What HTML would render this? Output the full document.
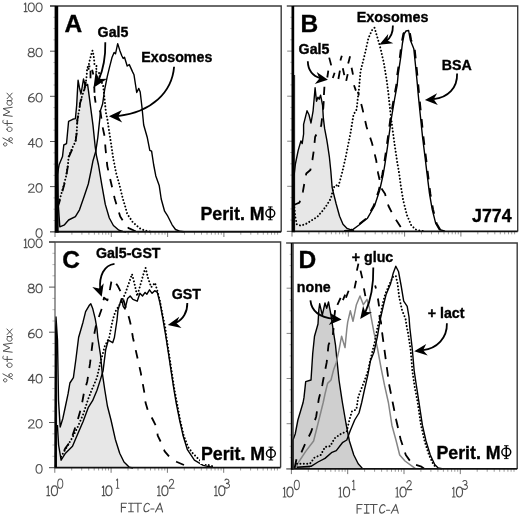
<!DOCTYPE html>
<html><head><meta charset="utf-8"><title>Figure</title>
<style>
html,body{margin:0;padding:0;background:#fff;}
body{width:520px;height:515px;overflow:hidden;}
svg{display:block;will-change:transform;transform:translateZ(0);filter:blur(0.35px);}
text{font-family:"Liberation Sans",sans-serif;}
</style></head><body>
<svg width="520" height="515" viewBox="0 0 520 515">
<rect width="520" height="515" fill="#fff"/>
<g id="panelA">
<path d="M50.0,6.0 H281.2 V231.8" fill="none" stroke="#3a3a3a" stroke-width="1.4"/>
<polygon points="57.0,232.0 57.0,176.0 59.1,164.8 62.5,156.6 63.8,145.0 66.5,143.7 68.6,121.3 72.7,119.3 75.4,118.6 76.7,105.0 77.5,90.0 78.1,80.3 79.5,88.0 81.0,94.0 83.5,79.0 85.3,86.0 87.6,84.4 89.6,99.3 91.0,110.2 93.0,125.4 95.1,145.8 96.4,155.3 98.5,165.0 101.9,185.4 105.3,204.4 109.3,218.0 113.4,225.5 118.9,230.2 122.9,231.4 126.0,232.0" fill="#e7e7e7" stroke="none"/>
<polyline points="57.0,232.0 57.0,176.0 59.1,164.8 62.5,156.6 63.8,145.0 66.5,143.7 68.6,121.3 72.7,119.3 75.4,118.6 76.7,105.0 77.5,90.0 78.1,80.3 79.5,88.0 81.0,94.0 83.5,79.0 85.3,86.0 87.6,84.4 89.6,99.3 91.0,110.2 93.0,125.4 95.1,145.8 96.4,155.3 98.5,165.0 101.9,185.4 105.3,204.4 109.3,218.0 113.4,225.5 118.9,230.2 122.9,231.4 126.0,232.0" fill="none" stroke="#000" stroke-width="1.4" stroke-linejoin="round"/>
<polyline points="57.0,170.0 58.0,200.0 59.8,226.8 64.5,224.8 68.6,220.0 75.4,216.6 79.5,209.8 84.2,196.3 88.3,184.0 91.0,171.0 93.0,160.7 95.8,151.2 97.8,137.6 99.8,118.6 100.5,110.4 102.6,104.0 104.6,89.8 107.3,76.3 109.3,68.1 112.1,57.2 114.1,52.5 115.5,53.8 117.7,43.6 119.8,50.4 121.8,55.8 123.2,58.5 124.5,57.2 127.2,66.0 129.3,64.6 132.7,72.1 134.0,74.8 136.7,92.5 138.8,88.4 140.2,92.0 142.0,107.5 143.7,125.0 147.2,137.2 149.8,150.3 151.6,151.2 153.7,165.0 155.8,175.9 159.2,185.4 161.2,199.0 164.6,211.2 167.3,215.3 172.1,224.8 175.5,229.5 180.2,231.3 184.0,231.8" fill="none" stroke="#000" stroke-width="1.4" stroke-linejoin="round"/>
<polyline points="57.5,206.0 59.1,201.7 61.8,192.2 65.9,177.2 67.9,165.0 68.6,156.6 72.7,147.1 75.4,141.7 76.7,132.2 77.4,118.6 79.5,109.0 80.1,102.0 84.2,89.8 86.2,80.0 86.8,74.0 87.1,68.3 88.6,65.5 89.6,61.0 90.6,57.0 91.5,53.5 92.5,50.6 93.3,54.0 94.0,58.2 94.3,62.0 94.5,65.2 97.1,66.3 95.6,71.4 99.0,72.5 99.8,77.6 103.2,85.8 104.6,99.3 106.0,113.0 107.3,118.6 109.3,132.2 111.4,145.8 113.4,159.3 116.1,173.0 118.9,182.7 122.9,199.0 125.0,205.8 127.2,213.9 132.7,222.1 139.5,228.2 144.9,230.6 150.0,231.5" fill="none" stroke="#000" stroke-width="2.0" stroke-dasharray="0.01 3.4" stroke-linecap="round" stroke-linejoin="round"/>
<polyline points="57.5,208.0 59.1,203.0 61.8,193.5 65.9,178.5 67.9,166.0 68.6,157.6 72.7,148.1 75.4,142.7 76.7,133.2 77.4,119.6 79.5,110.0 80.1,103.0 84.2,90.8 86.5,78.0" fill="none" stroke="#000" stroke-width="1.8" stroke-dasharray="8.6 8.8" stroke-linejoin="round"/>
<polyline points="94.6,96.0 95.8,104.0 98.0,108.0 100.5,112.0 102.6,127.0 104.6,136.3 105.5,148.5 107.3,166.1 110.7,181.3 114.8,199.0 120.2,216.6 122.9,220.7 128.6,228.2 134.0,230.5 138.0,231.5" fill="none" stroke="#000" stroke-width="1.8" stroke-dasharray="8.6 8.8" stroke-linejoin="round" stroke-dashoffset="1.89"/>
<path d="M90.5,70.6 L90.5,78.3" stroke="#000" stroke-width="1.8" fill="none"/><path d="M92.1,69.8 L93.3,74.5" stroke="#000" stroke-width="1.8" fill="none"/><path d="M88.2,66.0 L90.3,66.6" stroke="#000" stroke-width="1.8" fill="none"/><path d="M87.5,68.6 L89.5,69.1" stroke="#000" stroke-width="1.8" fill="none"/><path d="M94.3,86.6 L94.5,92.8" stroke="#000" stroke-width="1.8" fill="none"/>
<path d="M50.0,231.8 H56.0" stroke="#555" stroke-width="1"/>
<path d="M53.4,220.5 H56.0" stroke="#aaa" stroke-width="0.8"/>
<path d="M53.4,209.2 H56.0" stroke="#aaa" stroke-width="0.8"/>
<path d="M53.4,197.9 H56.0" stroke="#aaa" stroke-width="0.8"/>
<path d="M50.0,186.6 H56.0" stroke="#555" stroke-width="1"/>
<path d="M53.4,175.4 H56.0" stroke="#aaa" stroke-width="0.8"/>
<path d="M53.4,164.1 H56.0" stroke="#aaa" stroke-width="0.8"/>
<path d="M53.4,152.8 H56.0" stroke="#aaa" stroke-width="0.8"/>
<path d="M50.0,141.5 H56.0" stroke="#555" stroke-width="1"/>
<path d="M53.4,130.2 H56.0" stroke="#aaa" stroke-width="0.8"/>
<path d="M53.4,118.9 H56.0" stroke="#aaa" stroke-width="0.8"/>
<path d="M53.4,107.6 H56.0" stroke="#aaa" stroke-width="0.8"/>
<path d="M50.0,96.3 H56.0" stroke="#555" stroke-width="1"/>
<path d="M53.4,85.0 H56.0" stroke="#aaa" stroke-width="0.8"/>
<path d="M53.4,73.7 H56.0" stroke="#aaa" stroke-width="0.8"/>
<path d="M53.4,62.5 H56.0" stroke="#aaa" stroke-width="0.8"/>
<path d="M50.0,51.2 H56.0" stroke="#555" stroke-width="1"/>
<path d="M53.4,39.9 H56.0" stroke="#aaa" stroke-width="0.8"/>
<path d="M53.4,28.6 H56.0" stroke="#aaa" stroke-width="0.8"/>
<path d="M53.4,17.3 H56.0" stroke="#aaa" stroke-width="0.8"/>
<path d="M50.0,6.0 H56.0" stroke="#555" stroke-width="1"/>
<path d="M55.0,231.8 v5.2" stroke="#6a6a6a" stroke-width="0.9"/>
<path d="M71.9,231.8 v2.9" stroke="#888" stroke-width="0.8"/>
<path d="M81.9,231.8 v2.9" stroke="#888" stroke-width="0.8"/>
<path d="M88.9,231.8 v2.9" stroke="#888" stroke-width="0.8"/>
<path d="M94.4,231.8 v2.9" stroke="#888" stroke-width="0.8"/>
<path d="M98.8,231.8 v2.9" stroke="#888" stroke-width="0.8"/>
<path d="M102.6,231.8 v2.9" stroke="#888" stroke-width="0.8"/>
<path d="M105.8,231.8 v2.9" stroke="#888" stroke-width="0.8"/>
<path d="M108.7,231.8 v2.9" stroke="#888" stroke-width="0.8"/>
<path d="M111.3,231.8 v5.2" stroke="#6a6a6a" stroke-width="0.9"/>
<path d="M128.2,231.8 v2.9" stroke="#888" stroke-width="0.8"/>
<path d="M138.2,231.8 v2.9" stroke="#888" stroke-width="0.8"/>
<path d="M145.2,231.8 v2.9" stroke="#888" stroke-width="0.8"/>
<path d="M150.7,231.8 v2.9" stroke="#888" stroke-width="0.8"/>
<path d="M155.1,231.8 v2.9" stroke="#888" stroke-width="0.8"/>
<path d="M158.9,231.8 v2.9" stroke="#888" stroke-width="0.8"/>
<path d="M162.1,231.8 v2.9" stroke="#888" stroke-width="0.8"/>
<path d="M165.0,231.8 v2.9" stroke="#888" stroke-width="0.8"/>
<path d="M167.6,231.8 v5.2" stroke="#6a6a6a" stroke-width="0.9"/>
<path d="M184.5,231.8 v2.9" stroke="#888" stroke-width="0.8"/>
<path d="M194.5,231.8 v2.9" stroke="#888" stroke-width="0.8"/>
<path d="M201.5,231.8 v2.9" stroke="#888" stroke-width="0.8"/>
<path d="M207.0,231.8 v2.9" stroke="#888" stroke-width="0.8"/>
<path d="M211.4,231.8 v2.9" stroke="#888" stroke-width="0.8"/>
<path d="M215.2,231.8 v2.9" stroke="#888" stroke-width="0.8"/>
<path d="M218.4,231.8 v2.9" stroke="#888" stroke-width="0.8"/>
<path d="M221.3,231.8 v2.9" stroke="#888" stroke-width="0.8"/>
<path d="M223.9,231.8 v5.2" stroke="#6a6a6a" stroke-width="0.9"/>
<path d="M240.8,231.8 v2.9" stroke="#888" stroke-width="0.8"/>
<path d="M250.8,231.8 v2.9" stroke="#888" stroke-width="0.8"/>
<path d="M257.8,231.8 v2.9" stroke="#888" stroke-width="0.8"/>
<path d="M263.3,231.8 v2.9" stroke="#888" stroke-width="0.8"/>
<path d="M267.7,231.8 v2.9" stroke="#888" stroke-width="0.8"/>
<path d="M271.5,231.8 v2.9" stroke="#888" stroke-width="0.8"/>
<path d="M274.7,231.8 v2.9" stroke="#888" stroke-width="0.8"/>
<path d="M277.6,231.8 v2.9" stroke="#888" stroke-width="0.8"/>
<path d="M50.0,231.8 H56.0" fill="none" stroke="#666" stroke-width="1.1"/>
<path d="M55.5,231.8 H281.2" fill="none" stroke="#111" stroke-width="1.9"/>
<rect x="54.60" y="6.00" width="3.60" height="226.60" fill="#000"/>
<rect x="58.20" y="168.00" width="0.60" height="64.60" fill="#000"/>
<g transform="translate(35.50,237.50) scale(1.08,1.0)" fill="none" stroke="#505050" stroke-width="1.05" stroke-linecap="round" stroke-linejoin="round"><path transform="translate(0.00,0)" d="M3.3,-8.7 C1.4,-8.7 0.5,-6.6 0.5,-4.4 C0.5,-2.0 1.4,-0.1 3.3,-0.1 C5.2,-0.1 6.1,-2.0 6.1,-4.4 C6.1,-6.6 5.2,-8.7 3.3,-8.7 Z"/></g>
<g transform="translate(27.94,192.34) scale(1.08,1.0)" fill="none" stroke="#505050" stroke-width="1.05" stroke-linecap="round" stroke-linejoin="round"><path transform="translate(0.00,0)" d="M0.7,-6.6 C0.9,-8.9 5.4,-9.2 5.4,-6.4 C5.4,-4.0 1.6,-2.2 0.5,-0.1 H6.0"/><path transform="translate(7.00,0)" d="M3.3,-8.7 C1.4,-8.7 0.5,-6.6 0.5,-4.4 C0.5,-2.0 1.4,-0.1 3.3,-0.1 C5.2,-0.1 6.1,-2.0 6.1,-4.4 C6.1,-6.6 5.2,-8.7 3.3,-8.7 Z"/></g>
<g transform="translate(27.94,147.18) scale(1.08,1.0)" fill="none" stroke="#505050" stroke-width="1.05" stroke-linecap="round" stroke-linejoin="round"><path transform="translate(0.00,0)" d="M4.4,0 V-8.7 L0.3,-2.7 H6.2"/><path transform="translate(7.00,0)" d="M3.3,-8.7 C1.4,-8.7 0.5,-6.6 0.5,-4.4 C0.5,-2.0 1.4,-0.1 3.3,-0.1 C5.2,-0.1 6.1,-2.0 6.1,-4.4 C6.1,-6.6 5.2,-8.7 3.3,-8.7 Z"/></g>
<g transform="translate(27.94,102.02) scale(1.08,1.0)" fill="none" stroke="#505050" stroke-width="1.05" stroke-linecap="round" stroke-linejoin="round"><path transform="translate(0.00,0)" d="M4.9,-8.6 C2.2,-7.6 0.5,-5 0.5,-2.7 C0.5,-0.8 1.9,-0.1 3.2,-0.1 C4.8,-0.1 5.9,-1.2 5.9,-2.6 C5.9,-4.0 4.7,-4.8 3.4,-4.8 C2.0,-4.8 0.8,-3.8 0.5,-2.7"/><path transform="translate(7.00,0)" d="M3.3,-8.7 C1.4,-8.7 0.5,-6.6 0.5,-4.4 C0.5,-2.0 1.4,-0.1 3.3,-0.1 C5.2,-0.1 6.1,-2.0 6.1,-4.4 C6.1,-6.6 5.2,-8.7 3.3,-8.7 Z"/></g>
<g transform="translate(27.72,56.86) scale(1.08,1.0)" fill="none" stroke="#505050" stroke-width="1.05" stroke-linecap="round" stroke-linejoin="round"><path transform="translate(0.00,0)" d="M3.3,-4.7 C1.6,-4.7 0.9,-5.6 0.9,-6.7 C0.9,-7.9 1.9,-8.7 3.3,-8.7 C4.7,-8.7 5.6,-7.9 5.6,-6.7 C5.6,-5.6 4.9,-4.7 3.3,-4.7 C1.4,-4.7 0.4,-3.6 0.4,-2.4 C0.4,-1.0 1.6,-0.1 3.3,-0.1 C5.0,-0.1 6.2,-1.0 6.2,-2.4 C6.2,-3.6 5.2,-4.7 3.3,-4.7 Z"/><path transform="translate(7.20,0)" d="M3.3,-8.7 C1.4,-8.7 0.5,-6.6 0.5,-4.4 C0.5,-2.0 1.4,-0.1 3.3,-0.1 C5.2,-0.1 6.1,-2.0 6.1,-4.4 C6.1,-6.6 5.2,-8.7 3.3,-8.7 Z"/></g>
<g transform="translate(24.05,11.70) scale(1.08,1.0)" fill="none" stroke="#505050" stroke-width="1.05" stroke-linecap="round" stroke-linejoin="round"><path transform="translate(0.00,0)" d="M0.2,-7.6 L1.5,-8.7 V-0.1 M0.1,-0.1 H2.9"/><path transform="translate(3.40,0)" d="M3.3,-8.7 C1.4,-8.7 0.5,-6.6 0.5,-4.4 C0.5,-2.0 1.4,-0.1 3.3,-0.1 C5.2,-0.1 6.1,-2.0 6.1,-4.4 C6.1,-6.6 5.2,-8.7 3.3,-8.7 Z"/><path transform="translate(10.60,0)" d="M3.3,-8.7 C1.4,-8.7 0.5,-6.6 0.5,-4.4 C0.5,-2.0 1.4,-0.1 3.3,-0.1 C5.2,-0.1 6.1,-2.0 6.1,-4.4 C6.1,-6.6 5.2,-8.7 3.3,-8.7 Z"/></g>
<g transform="translate(12.20,146.10) rotate(-90)" fill="none" stroke="#505050" stroke-width="1" stroke-linecap="round" stroke-linejoin="round"><path d="M8.1,-9.3 L2.9,0.4"/><path d="M1.7,-8.7 C0.6,-8.7 0.1,-7.9 0.1,-7.0 C0.1,-6.1 0.7,-5.3 1.7,-5.3 C2.7,-5.3 3.3,-6.1 3.3,-7.0 C3.3,-7.9 2.8,-8.7 1.7,-8.7 Z"/><path d="M6.9,-3.2 C5.8,-3.2 5.3,-2.4 5.3,-1.5 C5.3,-0.6 5.9,0.2 6.9,0.2 C7.9,0.2 8.5,-0.6 8.5,-1.5 C8.5,-2.4 8.0,-3.2 6.9,-3.2 Z"/><path d="M16.8,-5.2 C15.3,-5.2 14.6,-4.0 14.6,-2.6 C14.6,-1.2 15.4,-0.1 16.8,-0.1 C18.2,-0.1 19.0,-1.2 19.0,-2.6 C19.0,-4.0 18.3,-5.2 16.8,-5.2 Z"/><path d="M26.0,-8.8 C25.2,-9.9 22.8,-9.8 22.6,-7.4 V0 M20.4,-5.0 H25.6"/><path d="M29.8,0 L31.0,-9.2 L34.2,-2.4 L37.5,-9.2 L38.8,0"/><path d="M45.4,-3.9 C44.8,-5.0 43.8,-5.2 43.0,-5.2 C41.6,-5.2 40.8,-4.0 40.8,-2.6 C40.8,-1.2 41.6,-0.1 43.0,-0.1 C44.4,-0.1 45.4,-1.2 45.5,-2.8 M45.5,-5.0 V-1.0 C45.6,-0.4 46.0,-0.1 46.5,-0.1"/><path d="M47.4,-5.1 L53.0,0 M53.0,-5.3 L47.4,0"/></g>
<text x="64.4" y="31.6" font-size="24.5" font-weight="bold" fill="#000" stroke="#000" stroke-width="0.35" text-anchor="start" >A</text>
<text x="97.6" y="36.8" font-size="14.2" font-weight="bold" fill="#000" stroke="#000" stroke-width="0.35" text-anchor="start" >Gal5</text>
<text x="141.3" y="61.6" font-size="14.2" font-weight="bold" fill="#000" stroke="#000" stroke-width="0.35" text-anchor="start" >Exosomes</text>
<text x="200.4" y="220" font-size="17.8" font-weight="bold" fill="#000" stroke="#000" stroke-width="0.35" text-anchor="start" >Perit. M</text>
<g fill="none" stroke="#000"><ellipse cx="270.3" cy="213.3" rx="4.45" ry="4.0" stroke-width="1.45"/><path d="M270.3,206.8 V219.9" stroke-width="1.5"/><path d="M268.0,206.9 h4.6 M268.0,219.8 h4.6" stroke-width="0.9"/></g>
<path d="M105.3,42.2 C105.6,56 103,70 98.6,80.2" fill="none" stroke="#000" stroke-width="1.8" stroke-linecap="butt"/><path d="M93.5,87.8 L95.7,71.5 L99.1,78.9 L107.2,78.7 Z" fill="#000"/>
<path d="M174.1,66.7 C172,92 152,112 117.6,116.2" fill="none" stroke="#000" stroke-width="1.8" stroke-linecap="butt"/><path d="M108.9,116.3 L122.0,110.0 L118.1,116.2 L122.2,122.4 Z" fill="#000"/>
</g>
<g id="panelB">
<path d="M286.8,6.0 H517.7 V231.4" fill="none" stroke="#3a3a3a" stroke-width="1.4"/>
<polygon points="294.0,232.0 294.0,176.0 295.4,164.0 298.2,150.4 300.9,140.9 302.2,143.6 303.6,134.0 303.6,124.3 307.0,110.8 309.0,114.8 311.0,123.0 313.1,110.8 315.1,87.7 316.5,101.2 317.9,97.2 319.2,99.2 320.6,95.1 322.6,105.3 323.3,117.6 324.6,128.4 326.7,139.3 327.4,143.6 329.4,157.2 330.8,170.8 332.1,187.0 332.8,190.4 336.2,204.0 339.6,216.2 343.0,224.3 347.1,228.4 351.1,229.8 354.0,231.0" fill="#e7e7e7" stroke="none"/>
<polyline points="294.0,232.0 294.0,176.0 295.4,164.0 298.2,150.4 300.9,140.9 302.2,143.6 303.6,134.0 303.6,124.3 307.0,110.8 309.0,114.8 311.0,123.0 313.1,110.8 315.1,87.7 316.5,101.2 317.9,97.2 319.2,99.2 320.6,95.1 322.6,105.3 323.3,117.6 324.6,128.4 326.7,139.3 327.4,143.6 329.4,157.2 330.8,170.8 332.1,187.0 332.8,190.4 336.2,204.0 339.6,216.2 343.0,224.3 347.1,228.4 351.1,229.8 354.0,231.0" fill="none" stroke="#000" stroke-width="1.4" stroke-linejoin="round"/>
<polyline points="345.0,231.0 351.7,230.4 358.7,225.2 367.5,218.2 374.5,206.0 379.7,190.2 383.2,174.5 385.0,163.7 387.6,146.2 391.1,120.0 394.6,99.0 397.2,85.0 398.1,74.9 400.7,57.4 402.4,43.5 404.2,33.8 406.0,31.0 408.6,30.5 410.3,40.0 413.8,48.7 415.6,66.2 417.3,83.7 418.2,94.2 419.9,111.2 422.6,137.4 425.2,158.4 426.9,172.7 429.5,193.7 432.2,209.4 435.7,223.4 439.2,229.5 445.0,231.2" fill="none" stroke="#000" stroke-width="1.4" stroke-linejoin="round"/>
<polyline points="294.0,204.0 295.4,217.6 296.8,224.3 300.9,225.7 306.3,223.7 311.7,220.3 317.2,216.9 322.6,210.8 326.7,205.3 330.8,198.5 333.5,187.7 336.2,185.0 338.2,187.0 340.3,179.5 342.3,172.0 345.7,157.2 348.4,143.6 350.0,136.0 353.5,114.7 356.6,109.4 357.9,97.2 358.7,92.0 360.5,71.4 364.9,54.0 368.4,38.2 371.9,30.3 374.5,27.7 377.1,36.5 380.6,48.7 384.1,64.4 386.7,80.2 388.5,94.2 389.3,102.5 392.0,125.2 394.6,144.4 397.2,161.9 399.3,174.2 400.7,185.0 403.3,200.7 406.8,214.7 411.2,225.2 415.6,229.5 419.9,230.6 424.0,231.2" fill="none" stroke="#000" stroke-width="2.0" stroke-dasharray="0.01 3.4" stroke-linecap="round" stroke-linejoin="round"/>
<polyline points="294.0,205.0 296.1,204.0 299.5,202.6 302.9,191.7 304.3,183.6 306.3,173.5 310.4,170.0 312.4,160.0 313.8,150.4 315.1,137.0 318.0,131.0 321.2,125.7 323.3,108.0 324.0,97.0" fill="none" stroke="#000" stroke-width="1.8" stroke-dasharray="8.6 8.8" stroke-linejoin="round" stroke-dashoffset="0.74"/>
<polyline points="357.9,91.7 362.2,107.7 366.6,127.0 371.9,142.7 376.2,160.2 378.0,172.7 381.5,188.5 385.0,193.7 388.5,206.0 393.7,216.4 400.7,227.0 404.2,230.4 408.0,231.2" fill="none" stroke="#000" stroke-width="1.8" stroke-dasharray="8.6 8.8" stroke-linejoin="round" stroke-dashoffset="4.65"/>
<path d="M329.2,57.6 L331.2,65.4" stroke="#000" stroke-width="1.8" fill="none"/><path d="M328.3,70.7 L327.3,77.5" stroke="#000" stroke-width="1.8" fill="none"/><path d="M334.6,72.7 L332.8,78.0" stroke="#000" stroke-width="1.8" fill="none"/><path d="M339.9,70.7 L338.4,79.0" stroke="#000" stroke-width="1.8" fill="none"/><path d="M341.8,55.7 L340.4,60.5" stroke="#000" stroke-width="1.8" fill="none"/><path d="M342.8,68.3 L344.3,75.1" stroke="#000" stroke-width="1.8" fill="none"/><path d="M347.7,74.1 L346.2,80.9" stroke="#000" stroke-width="1.8" fill="none"/><path d="M350.1,56.2 L348.2,63.4" stroke="#000" stroke-width="1.8" fill="none"/><path d="M351.6,67.8 L353.0,74.6" stroke="#000" stroke-width="1.8" fill="none"/><path d="M354.0,85.3 L355.9,90.6" stroke="#000" stroke-width="1.8" fill="none"/><path d="M324.4,86.7 L323.9,95.0" stroke="#000" stroke-width="1.8" fill="none"/>
<polyline points="344.1,231.0 350.8,230.4 357.8,225.2 366.6,218.2 373.6,206.0 378.8,190.2 382.3,174.5 384.1,163.7 386.7,146.2 390.2,120.0 393.7,99.0 396.3,85.0 397.2,74.9 399.8,57.4 401.5,43.5 403.3,33.8 405.1,31.0 409.5,30.5 411.2,40.0 414.7,48.7 416.5,66.2 418.2,83.7 419.1,94.2 420.8,111.2 423.5,137.4 426.1,158.4 427.8,172.7 430.4,193.7 433.1,209.4 436.6,223.4 440.1,229.5 445.9,231.2" fill="none" stroke="#000" stroke-width="1.8" stroke-dasharray="8.6 8.8" stroke-linejoin="round"/>
<path d="M287.2,231.4 H292.8" stroke="#888" stroke-width="1"/>
<path d="M290.2,220.1 H292.8" stroke="#aaa" stroke-width="0.8"/>
<path d="M290.2,208.9 H292.8" stroke="#aaa" stroke-width="0.8"/>
<path d="M290.2,197.6 H292.8" stroke="#aaa" stroke-width="0.8"/>
<path d="M287.2,186.3 H292.8" stroke="#888" stroke-width="1"/>
<path d="M290.2,175.1 H292.8" stroke="#aaa" stroke-width="0.8"/>
<path d="M290.2,163.8 H292.8" stroke="#aaa" stroke-width="0.8"/>
<path d="M290.2,152.5 H292.8" stroke="#aaa" stroke-width="0.8"/>
<path d="M287.2,141.2 H292.8" stroke="#888" stroke-width="1"/>
<path d="M290.2,130.0 H292.8" stroke="#aaa" stroke-width="0.8"/>
<path d="M290.2,118.7 H292.8" stroke="#aaa" stroke-width="0.8"/>
<path d="M290.2,107.4 H292.8" stroke="#aaa" stroke-width="0.8"/>
<path d="M287.2,96.2 H292.8" stroke="#888" stroke-width="1"/>
<path d="M290.2,84.9 H292.8" stroke="#aaa" stroke-width="0.8"/>
<path d="M290.2,73.6 H292.8" stroke="#aaa" stroke-width="0.8"/>
<path d="M290.2,62.3 H292.8" stroke="#aaa" stroke-width="0.8"/>
<path d="M287.2,51.1 H292.8" stroke="#888" stroke-width="1"/>
<path d="M290.2,39.8 H292.8" stroke="#aaa" stroke-width="0.8"/>
<path d="M290.2,28.5 H292.8" stroke="#aaa" stroke-width="0.8"/>
<path d="M290.2,17.3 H292.8" stroke="#aaa" stroke-width="0.8"/>
<path d="M287.2,6.0 H292.8" stroke="#888" stroke-width="1"/>
<path d="M292.0,231.4 v5.2" stroke="#6a6a6a" stroke-width="0.9"/>
<path d="M308.9,231.4 v2.9" stroke="#888" stroke-width="0.8"/>
<path d="M318.9,231.4 v2.9" stroke="#888" stroke-width="0.8"/>
<path d="M325.9,231.4 v2.9" stroke="#888" stroke-width="0.8"/>
<path d="M331.4,231.4 v2.9" stroke="#888" stroke-width="0.8"/>
<path d="M335.8,231.4 v2.9" stroke="#888" stroke-width="0.8"/>
<path d="M339.6,231.4 v2.9" stroke="#888" stroke-width="0.8"/>
<path d="M342.8,231.4 v2.9" stroke="#888" stroke-width="0.8"/>
<path d="M345.7,231.4 v2.9" stroke="#888" stroke-width="0.8"/>
<path d="M348.3,231.4 v5.2" stroke="#6a6a6a" stroke-width="0.9"/>
<path d="M365.2,231.4 v2.9" stroke="#888" stroke-width="0.8"/>
<path d="M375.2,231.4 v2.9" stroke="#888" stroke-width="0.8"/>
<path d="M382.2,231.4 v2.9" stroke="#888" stroke-width="0.8"/>
<path d="M387.7,231.4 v2.9" stroke="#888" stroke-width="0.8"/>
<path d="M392.1,231.4 v2.9" stroke="#888" stroke-width="0.8"/>
<path d="M395.9,231.4 v2.9" stroke="#888" stroke-width="0.8"/>
<path d="M399.1,231.4 v2.9" stroke="#888" stroke-width="0.8"/>
<path d="M402.0,231.4 v2.9" stroke="#888" stroke-width="0.8"/>
<path d="M404.6,231.4 v5.2" stroke="#6a6a6a" stroke-width="0.9"/>
<path d="M421.5,231.4 v2.9" stroke="#888" stroke-width="0.8"/>
<path d="M431.5,231.4 v2.9" stroke="#888" stroke-width="0.8"/>
<path d="M438.5,231.4 v2.9" stroke="#888" stroke-width="0.8"/>
<path d="M444.0,231.4 v2.9" stroke="#888" stroke-width="0.8"/>
<path d="M448.4,231.4 v2.9" stroke="#888" stroke-width="0.8"/>
<path d="M452.2,231.4 v2.9" stroke="#888" stroke-width="0.8"/>
<path d="M455.4,231.4 v2.9" stroke="#888" stroke-width="0.8"/>
<path d="M458.3,231.4 v2.9" stroke="#888" stroke-width="0.8"/>
<path d="M460.9,231.4 v5.2" stroke="#6a6a6a" stroke-width="0.9"/>
<path d="M477.8,231.4 v2.9" stroke="#888" stroke-width="0.8"/>
<path d="M487.8,231.4 v2.9" stroke="#888" stroke-width="0.8"/>
<path d="M494.8,231.4 v2.9" stroke="#888" stroke-width="0.8"/>
<path d="M500.3,231.4 v2.9" stroke="#888" stroke-width="0.8"/>
<path d="M504.7,231.4 v2.9" stroke="#888" stroke-width="0.8"/>
<path d="M508.5,231.4 v2.9" stroke="#888" stroke-width="0.8"/>
<path d="M511.7,231.4 v2.9" stroke="#888" stroke-width="0.8"/>
<path d="M514.6,231.4 v2.9" stroke="#888" stroke-width="0.8"/>
<path d="M286.8,231.4 H292.8" fill="none" stroke="#666" stroke-width="1.1"/>
<path d="M292.3,231.4 H517.7" fill="none" stroke="#111" stroke-width="1.9"/>
<rect x="291.50" y="6.00" width="2.70" height="226.20" fill="#000"/>
<rect x="294.20" y="75.00" width="0.90" height="157.20" fill="#000"/>
<text x="300.6" y="31.6" font-size="24.5" font-weight="bold" fill="#000" stroke="#000" stroke-width="0.35" text-anchor="start" >B</text>
<text x="298.6" y="54.2" font-size="14.2" font-weight="bold" fill="#000" stroke="#000" stroke-width="0.35" text-anchor="start" >Gal5</text>
<text x="356.8" y="21.8" font-size="14.35" font-weight="bold" fill="#000" stroke="#000" stroke-width="0.35" text-anchor="start" >Exosomes</text>
<text x="441.8" y="69.6" font-size="14.2" font-weight="bold" fill="#000" stroke="#000" stroke-width="0.35" text-anchor="start" >BSA</text>
<text x="472.0" y="221.6" font-size="17.8" font-weight="bold" fill="#000" stroke="#000" stroke-width="0.35" text-anchor="start" >J774</text>
<path d="M307.8,61.2 C308,70 313,76 320.8,78.4" fill="none" stroke="#000" stroke-width="1.8" stroke-linecap="butt"/><path d="M327.9,79.8 L314.8,83.9 L319.4,78.5 L316.7,71.9 Z" fill="#000"/>
<path d="M392.9,25.5 C393,32 391,37.5 386.3,40.9" fill="none" stroke="#000" stroke-width="1.8" stroke-linecap="butt"/><path d="M379.3,44.8 L388.2,33.9 L387.3,40.5 L393.3,43.3 Z" fill="#000"/>
<path d="M457.1,73.4 C457.5,88 448,97.5 433.6,99.2" fill="none" stroke="#000" stroke-width="1.8" stroke-linecap="butt"/><path d="M424.9,99.9 L437.1,93.3 L433.7,99.3 L437.8,104.9 Z" fill="#000"/>
</g>
<g id="panelC">
<path d="M49.0,242.0 H280.6 V467.6" fill="none" stroke="#3a3a3a" stroke-width="1.4"/>
<polygon points="56.0,468.0 56.0,317.0 57.5,340.0 58.5,400.0 60.2,427.0 62.9,418.2 65.5,406.0 68.1,393.7 69.9,383.0 73.4,377.7 76.0,358.5 78.6,337.5 83.0,322.2 85.6,311.7 89.1,305.6 90.8,303.8 92.6,308.2 95.2,318.7 97.0,329.2 97.8,337.5 100.5,355.0 102.2,372.4 104.8,390.0 107.4,406.0 111.0,420.0 115.3,439.2 119.7,453.2 124.0,462.0 129.3,467.2 133.0,468.0" fill="#e7e7e7" stroke="none"/>
<polyline points="56.0,468.0 56.0,317.0 57.5,340.0 58.5,400.0 60.2,427.0 62.9,418.2 65.5,406.0 68.1,393.7 69.9,383.0 73.4,377.7 76.0,358.5 78.6,337.5 83.0,322.2 85.6,311.7 89.1,305.6 90.8,303.8 92.6,308.2 95.2,318.7 97.0,329.2 97.8,337.5 100.5,355.0 102.2,372.4 104.8,390.0 107.4,406.0 111.0,420.0 115.3,439.2 119.7,453.2 124.0,462.0 129.3,467.2 133.0,468.0" fill="none" stroke="#000" stroke-width="1.4" stroke-linejoin="round"/>
<polyline points="57.4,425.0 58.6,445.0 61.1,460.2 65.5,453.2 72.5,446.2 77.7,434.0 83.0,421.7 88.2,407.7 92.6,400.7 97.0,390.2 100.5,379.4 103.1,370.7 105.7,349.7 108.3,340.1 112.7,342.7 114.4,337.5 117.0,320.0 118.0,310.0 121.4,298.6 123.2,306.4 125.0,309.0 127.6,298.6 130.2,296.0 132.9,299.4 137.2,301.2 139.9,293.3 142.5,296.0 145.1,292.4 146.9,294.2 149.5,289.8 152.1,293.3 154.7,290.7 157.3,292.4 160.0,303.0 162.6,317.0 164.3,327.4 166.0,337.5 168.7,355.0 171.3,372.4 174.0,390.0 176.1,402.5 179.6,420.0 183.1,435.7 187.4,449.7 194.4,460.2 203.2,465.4 212.0,467.2" fill="none" stroke="#000" stroke-width="1.4" stroke-linejoin="round"/>
<polyline points="61.1,456.7 67.2,446.2 72.5,437.4 77.7,427.0 83.0,414.7 88.2,399.0 91.7,390.0 97.0,377.7 100.5,362.0 104.8,346.2 109.2,337.5 112.7,320.0 115.3,311.7 120.6,303.0 125.0,294.2 129.3,282.0 132.0,274.1 134.5,283.7 137.2,296.0 140.7,283.7 144.2,271.5 145.6,268.0 148.0,278.0 151.2,287.2 155.0,282.8 157.3,290.7 160.0,301.2 162.6,315.2 165.2,327.4 166.5,337.5 169.2,355.0 171.8,372.4 174.5,390.0 177.4,405.0 180.1,420.0 183.6,435.0 188.0,447.0 192.7,453.2 199.7,460.2 206.7,464.5 215.0,467.0" fill="none" stroke="#000" stroke-width="2.0" stroke-dasharray="0.01 3.4" stroke-linecap="round" stroke-linejoin="round"/>
<polyline points="62.0,455.0 65.5,448.0 70.7,441.0 74.2,430.5 77.7,420.0 81.2,407.7 83.8,393.7 87.3,381.2 90.0,363.7 92.6,342.7 96.0,325.2 101.3,310.0 104.0,297.7 107.4,300.3 110.0,289.0 111.3,282.0 113.0,279.0 118.0,286.3 121.4,293.3 125.0,305.0 129.3,318.7 131.0,325.7 132.9,337.5 137.2,356.7 140.7,372.4 144.2,391.7 145.5,402.5 148.1,411.2 152.5,419.0 156.9,427.8 157.7,435.7 162.1,444.4 164.7,451.4 170.0,457.6 177.0,462.0 184.8,465.4 190.0,467.0" fill="none" stroke="#000" stroke-width="1.8" stroke-dasharray="8.6 8.8" stroke-linejoin="round" stroke-dashoffset="12.56"/>
<path d="M49.0,467.6 H55.0" stroke="#555" stroke-width="1"/>
<path d="M52.4,456.3 H55.0" stroke="#aaa" stroke-width="0.8"/>
<path d="M52.4,445.0 H55.0" stroke="#aaa" stroke-width="0.8"/>
<path d="M52.4,433.8 H55.0" stroke="#aaa" stroke-width="0.8"/>
<path d="M49.0,422.5 H55.0" stroke="#555" stroke-width="1"/>
<path d="M52.4,411.2 H55.0" stroke="#aaa" stroke-width="0.8"/>
<path d="M52.4,399.9 H55.0" stroke="#aaa" stroke-width="0.8"/>
<path d="M52.4,388.6 H55.0" stroke="#aaa" stroke-width="0.8"/>
<path d="M49.0,377.4 H55.0" stroke="#555" stroke-width="1"/>
<path d="M52.4,366.1 H55.0" stroke="#aaa" stroke-width="0.8"/>
<path d="M52.4,354.8 H55.0" stroke="#aaa" stroke-width="0.8"/>
<path d="M52.4,343.5 H55.0" stroke="#aaa" stroke-width="0.8"/>
<path d="M49.0,332.2 H55.0" stroke="#555" stroke-width="1"/>
<path d="M52.4,321.0 H55.0" stroke="#aaa" stroke-width="0.8"/>
<path d="M52.4,309.7 H55.0" stroke="#aaa" stroke-width="0.8"/>
<path d="M52.4,298.4 H55.0" stroke="#aaa" stroke-width="0.8"/>
<path d="M49.0,287.1 H55.0" stroke="#555" stroke-width="1"/>
<path d="M52.4,275.8 H55.0" stroke="#aaa" stroke-width="0.8"/>
<path d="M52.4,264.6 H55.0" stroke="#aaa" stroke-width="0.8"/>
<path d="M52.4,253.3 H55.0" stroke="#aaa" stroke-width="0.8"/>
<path d="M49.0,242.0 H55.0" stroke="#555" stroke-width="1"/>
<path d="M54.8,467.6 v5.2" stroke="#6a6a6a" stroke-width="0.9"/>
<path d="M71.7,467.6 v2.9" stroke="#888" stroke-width="0.8"/>
<path d="M81.7,467.6 v2.9" stroke="#888" stroke-width="0.8"/>
<path d="M88.7,467.6 v2.9" stroke="#888" stroke-width="0.8"/>
<path d="M94.2,467.6 v2.9" stroke="#888" stroke-width="0.8"/>
<path d="M98.6,467.6 v2.9" stroke="#888" stroke-width="0.8"/>
<path d="M102.4,467.6 v2.9" stroke="#888" stroke-width="0.8"/>
<path d="M105.6,467.6 v2.9" stroke="#888" stroke-width="0.8"/>
<path d="M108.5,467.6 v2.9" stroke="#888" stroke-width="0.8"/>
<path d="M111.1,467.6 v5.2" stroke="#6a6a6a" stroke-width="0.9"/>
<path d="M128.0,467.6 v2.9" stroke="#888" stroke-width="0.8"/>
<path d="M138.0,467.6 v2.9" stroke="#888" stroke-width="0.8"/>
<path d="M145.0,467.6 v2.9" stroke="#888" stroke-width="0.8"/>
<path d="M150.5,467.6 v2.9" stroke="#888" stroke-width="0.8"/>
<path d="M154.9,467.6 v2.9" stroke="#888" stroke-width="0.8"/>
<path d="M158.7,467.6 v2.9" stroke="#888" stroke-width="0.8"/>
<path d="M161.9,467.6 v2.9" stroke="#888" stroke-width="0.8"/>
<path d="M164.8,467.6 v2.9" stroke="#888" stroke-width="0.8"/>
<path d="M167.4,467.6 v5.2" stroke="#6a6a6a" stroke-width="0.9"/>
<path d="M184.3,467.6 v2.9" stroke="#888" stroke-width="0.8"/>
<path d="M194.3,467.6 v2.9" stroke="#888" stroke-width="0.8"/>
<path d="M201.3,467.6 v2.9" stroke="#888" stroke-width="0.8"/>
<path d="M206.8,467.6 v2.9" stroke="#888" stroke-width="0.8"/>
<path d="M211.2,467.6 v2.9" stroke="#888" stroke-width="0.8"/>
<path d="M215.0,467.6 v2.9" stroke="#888" stroke-width="0.8"/>
<path d="M218.2,467.6 v2.9" stroke="#888" stroke-width="0.8"/>
<path d="M221.1,467.6 v2.9" stroke="#888" stroke-width="0.8"/>
<path d="M223.7,467.6 v5.2" stroke="#6a6a6a" stroke-width="0.9"/>
<path d="M240.6,467.6 v2.9" stroke="#888" stroke-width="0.8"/>
<path d="M250.6,467.6 v2.9" stroke="#888" stroke-width="0.8"/>
<path d="M257.6,467.6 v2.9" stroke="#888" stroke-width="0.8"/>
<path d="M263.1,467.6 v2.9" stroke="#888" stroke-width="0.8"/>
<path d="M267.5,467.6 v2.9" stroke="#888" stroke-width="0.8"/>
<path d="M271.3,467.6 v2.9" stroke="#888" stroke-width="0.8"/>
<path d="M274.5,467.6 v2.9" stroke="#888" stroke-width="0.8"/>
<path d="M277.4,467.6 v2.9" stroke="#888" stroke-width="0.8"/>
<path d="M49.0,467.6 H55.0" fill="none" stroke="#666" stroke-width="1.1"/>
<path d="M54.5,467.6 H280.6" fill="none" stroke="#111" stroke-width="1.9"/>
<path d="M55.0,242.0 V467.6" fill="none" stroke="#484848" stroke-width="1.1"/>
<path d="M55.2,317.0 L56.9,342.0 V467.6 H54.4 Z" fill="#000"/>
<g transform="translate(35.50,473.30) scale(1.08,1.0)" fill="none" stroke="#505050" stroke-width="1.05" stroke-linecap="round" stroke-linejoin="round"><path transform="translate(0.00,0)" d="M3.3,-8.7 C1.4,-8.7 0.5,-6.6 0.5,-4.4 C0.5,-2.0 1.4,-0.1 3.3,-0.1 C5.2,-0.1 6.1,-2.0 6.1,-4.4 C6.1,-6.6 5.2,-8.7 3.3,-8.7 Z"/></g>
<g transform="translate(27.94,428.18) scale(1.08,1.0)" fill="none" stroke="#505050" stroke-width="1.05" stroke-linecap="round" stroke-linejoin="round"><path transform="translate(0.00,0)" d="M0.7,-6.6 C0.9,-8.9 5.4,-9.2 5.4,-6.4 C5.4,-4.0 1.6,-2.2 0.5,-0.1 H6.0"/><path transform="translate(7.00,0)" d="M3.3,-8.7 C1.4,-8.7 0.5,-6.6 0.5,-4.4 C0.5,-2.0 1.4,-0.1 3.3,-0.1 C5.2,-0.1 6.1,-2.0 6.1,-4.4 C6.1,-6.6 5.2,-8.7 3.3,-8.7 Z"/></g>
<g transform="translate(27.94,383.06) scale(1.08,1.0)" fill="none" stroke="#505050" stroke-width="1.05" stroke-linecap="round" stroke-linejoin="round"><path transform="translate(0.00,0)" d="M4.4,0 V-8.7 L0.3,-2.7 H6.2"/><path transform="translate(7.00,0)" d="M3.3,-8.7 C1.4,-8.7 0.5,-6.6 0.5,-4.4 C0.5,-2.0 1.4,-0.1 3.3,-0.1 C5.2,-0.1 6.1,-2.0 6.1,-4.4 C6.1,-6.6 5.2,-8.7 3.3,-8.7 Z"/></g>
<g transform="translate(27.94,337.94) scale(1.08,1.0)" fill="none" stroke="#505050" stroke-width="1.05" stroke-linecap="round" stroke-linejoin="round"><path transform="translate(0.00,0)" d="M4.9,-8.6 C2.2,-7.6 0.5,-5 0.5,-2.7 C0.5,-0.8 1.9,-0.1 3.2,-0.1 C4.8,-0.1 5.9,-1.2 5.9,-2.6 C5.9,-4.0 4.7,-4.8 3.4,-4.8 C2.0,-4.8 0.8,-3.8 0.5,-2.7"/><path transform="translate(7.00,0)" d="M3.3,-8.7 C1.4,-8.7 0.5,-6.6 0.5,-4.4 C0.5,-2.0 1.4,-0.1 3.3,-0.1 C5.2,-0.1 6.1,-2.0 6.1,-4.4 C6.1,-6.6 5.2,-8.7 3.3,-8.7 Z"/></g>
<g transform="translate(27.72,292.82) scale(1.08,1.0)" fill="none" stroke="#505050" stroke-width="1.05" stroke-linecap="round" stroke-linejoin="round"><path transform="translate(0.00,0)" d="M3.3,-4.7 C1.6,-4.7 0.9,-5.6 0.9,-6.7 C0.9,-7.9 1.9,-8.7 3.3,-8.7 C4.7,-8.7 5.6,-7.9 5.6,-6.7 C5.6,-5.6 4.9,-4.7 3.3,-4.7 C1.4,-4.7 0.4,-3.6 0.4,-2.4 C0.4,-1.0 1.6,-0.1 3.3,-0.1 C5.0,-0.1 6.2,-1.0 6.2,-2.4 C6.2,-3.6 5.2,-4.7 3.3,-4.7 Z"/><path transform="translate(7.20,0)" d="M3.3,-8.7 C1.4,-8.7 0.5,-6.6 0.5,-4.4 C0.5,-2.0 1.4,-0.1 3.3,-0.1 C5.2,-0.1 6.1,-2.0 6.1,-4.4 C6.1,-6.6 5.2,-8.7 3.3,-8.7 Z"/></g>
<g transform="translate(24.05,247.70) scale(1.08,1.0)" fill="none" stroke="#505050" stroke-width="1.05" stroke-linecap="round" stroke-linejoin="round"><path transform="translate(0.00,0)" d="M0.2,-7.6 L1.5,-8.7 V-0.1 M0.1,-0.1 H2.9"/><path transform="translate(3.40,0)" d="M3.3,-8.7 C1.4,-8.7 0.5,-6.6 0.5,-4.4 C0.5,-2.0 1.4,-0.1 3.3,-0.1 C5.2,-0.1 6.1,-2.0 6.1,-4.4 C6.1,-6.6 5.2,-8.7 3.3,-8.7 Z"/><path transform="translate(10.60,0)" d="M3.3,-8.7 C1.4,-8.7 0.5,-6.6 0.5,-4.4 C0.5,-2.0 1.4,-0.1 3.3,-0.1 C5.2,-0.1 6.1,-2.0 6.1,-4.4 C6.1,-6.6 5.2,-8.7 3.3,-8.7 Z"/></g>
<g transform="translate(12.20,382.00) rotate(-90)" fill="none" stroke="#505050" stroke-width="1" stroke-linecap="round" stroke-linejoin="round"><path d="M8.1,-9.3 L2.9,0.4"/><path d="M1.7,-8.7 C0.6,-8.7 0.1,-7.9 0.1,-7.0 C0.1,-6.1 0.7,-5.3 1.7,-5.3 C2.7,-5.3 3.3,-6.1 3.3,-7.0 C3.3,-7.9 2.8,-8.7 1.7,-8.7 Z"/><path d="M6.9,-3.2 C5.8,-3.2 5.3,-2.4 5.3,-1.5 C5.3,-0.6 5.9,0.2 6.9,0.2 C7.9,0.2 8.5,-0.6 8.5,-1.5 C8.5,-2.4 8.0,-3.2 6.9,-3.2 Z"/><path d="M16.8,-5.2 C15.3,-5.2 14.6,-4.0 14.6,-2.6 C14.6,-1.2 15.4,-0.1 16.8,-0.1 C18.2,-0.1 19.0,-1.2 19.0,-2.6 C19.0,-4.0 18.3,-5.2 16.8,-5.2 Z"/><path d="M26.0,-8.8 C25.2,-9.9 22.8,-9.8 22.6,-7.4 V0 M20.4,-5.0 H25.6"/><path d="M29.8,0 L31.0,-9.2 L34.2,-2.4 L37.5,-9.2 L38.8,0"/><path d="M45.4,-3.9 C44.8,-5.0 43.8,-5.2 43.0,-5.2 C41.6,-5.2 40.8,-4.0 40.8,-2.6 C40.8,-1.2 41.6,-0.1 43.0,-0.1 C44.4,-0.1 45.4,-1.2 45.5,-2.8 M45.5,-5.0 V-1.0 C45.6,-0.4 46.0,-0.1 46.5,-0.1"/><path d="M47.4,-5.1 L53.0,0 M53.0,-5.3 L47.4,0"/></g>
<g transform="translate(46.80,495.80) scale(1.0,1.12)" fill="none" stroke="#505050" stroke-width="1.05" stroke-linecap="round" stroke-linejoin="round"><path transform="translate(0.00,0)" d="M0.2,-7.6 L1.5,-8.7 V-0.1 M0.1,-0.1 H2.9"/></g>
<g transform="translate(50.82,495.80) scale(1.1,1.14)" fill="none" stroke="#505050" stroke-width="1.05" stroke-linecap="round" stroke-linejoin="round"><path transform="translate(0.00,0)" d="M3.3,-8.7 C1.4,-8.7 0.5,-6.6 0.5,-4.4 C0.5,-2.0 1.4,-0.1 3.3,-0.1 C5.2,-0.1 6.1,-2.0 6.1,-4.4 C6.1,-6.6 5.2,-8.7 3.3,-8.7 Z"/></g>
<g transform="translate(57.21,488.40) scale(0.92,1.08)" fill="none" stroke="#505050" stroke-width="1.05" stroke-linecap="round" stroke-linejoin="round"><path transform="translate(0.00,0)" d="M3.3,-8.7 C1.4,-8.7 0.5,-6.6 0.5,-4.4 C0.5,-2.0 1.4,-0.1 3.3,-0.1 C5.2,-0.1 6.1,-2.0 6.1,-4.4 C6.1,-6.6 5.2,-8.7 3.3,-8.7 Z"/></g>
<g transform="translate(102.10,495.80) scale(1.0,1.12)" fill="none" stroke="#505050" stroke-width="1.05" stroke-linecap="round" stroke-linejoin="round"><path transform="translate(0.00,0)" d="M0.2,-7.6 L1.5,-8.7 V-0.1 M0.1,-0.1 H2.9"/></g>
<g transform="translate(105.22,495.80) scale(1.1,1.14)" fill="none" stroke="#505050" stroke-width="1.05" stroke-linecap="round" stroke-linejoin="round"><path transform="translate(0.00,0)" d="M3.3,-8.7 C1.4,-8.7 0.5,-6.6 0.5,-4.4 C0.5,-2.0 1.4,-0.1 3.3,-0.1 C5.2,-0.1 6.1,-2.0 6.1,-4.4 C6.1,-6.6 5.2,-8.7 3.3,-8.7 Z"/></g>
<g transform="translate(116.22,488.40) scale(0.92,1.08)" fill="none" stroke="#505050" stroke-width="1.05" stroke-linecap="round" stroke-linejoin="round"><path transform="translate(0.00,0)" d="M0.2,-7.6 L1.5,-8.7 V-0.1 M0.1,-0.1 H2.9"/></g>
<g transform="translate(157.50,495.80) scale(1.0,1.12)" fill="none" stroke="#505050" stroke-width="1.05" stroke-linecap="round" stroke-linejoin="round"><path transform="translate(0.00,0)" d="M0.2,-7.6 L1.5,-8.7 V-0.1 M0.1,-0.1 H2.9"/></g>
<g transform="translate(161.27,495.80) scale(1.1,1.14)" fill="none" stroke="#505050" stroke-width="1.05" stroke-linecap="round" stroke-linejoin="round"><path transform="translate(0.00,0)" d="M3.3,-8.7 C1.4,-8.7 0.5,-6.6 0.5,-4.4 C0.5,-2.0 1.4,-0.1 3.3,-0.1 C5.2,-0.1 6.1,-2.0 6.1,-4.4 C6.1,-6.6 5.2,-8.7 3.3,-8.7 Z"/></g>
<g transform="translate(168.66,488.40) scale(0.92,1.08)" fill="none" stroke="#505050" stroke-width="1.05" stroke-linecap="round" stroke-linejoin="round"><path transform="translate(0.00,0)" d="M0.7,-6.6 C0.9,-8.9 5.4,-9.2 5.4,-6.4 C5.4,-4.0 1.6,-2.2 0.5,-0.1 H6.0"/></g>
<g transform="translate(214.50,495.80) scale(1.0,1.12)" fill="none" stroke="#505050" stroke-width="1.05" stroke-linecap="round" stroke-linejoin="round"><path transform="translate(0.00,0)" d="M0.2,-7.6 L1.5,-8.7 V-0.1 M0.1,-0.1 H2.9"/></g>
<g transform="translate(218.17,495.80) scale(1.1,1.14)" fill="none" stroke="#505050" stroke-width="1.05" stroke-linecap="round" stroke-linejoin="round"><path transform="translate(0.00,0)" d="M3.3,-8.7 C1.4,-8.7 0.5,-6.6 0.5,-4.4 C0.5,-2.0 1.4,-0.1 3.3,-0.1 C5.2,-0.1 6.1,-2.0 6.1,-4.4 C6.1,-6.6 5.2,-8.7 3.3,-8.7 Z"/></g>
<g transform="translate(224.21,488.40) scale(0.92,1.08)" fill="none" stroke="#505050" stroke-width="1.05" stroke-linecap="round" stroke-linejoin="round"><path transform="translate(0.00,0)" d="M0.8,-7.6 C1.8,-9.0 5.2,-9.0 5.2,-6.6 C5.2,-5.2 3.6,-4.6 2.4,-4.6 C4.0,-4.6 5.8,-4.0 5.8,-2.4 C5.8,-0.1 1.8,0.4 0.5,-1.2"/></g>
<g transform="translate(120.90,512.00) scale(1.0,1.0)" fill="none" stroke="#505050" stroke-width="1.1" stroke-linecap="round" stroke-linejoin="round"><path transform="translate(0.00,0)" d="M0.5,0 V-8.8 H5.6 M0.5,-4.6 H4.6"/><path transform="translate(7.50,0)" d="M0.2,-8.8 H5.0 M2.6,-8.8 V-0.2 M0.2,-0.2 H5.0"/><path transform="translate(13.30,0)" d="M0.1,-8.8 H7.3 M3.7,-8.8 V0"/><path transform="translate(22.30,0)" d="M6.2,-7.4 C5.6,-9.2 3.2,-9.2 1.8,-7 C0.2,-4.4 0.2,-0.3 3.0,-0.2 C4.4,-0.2 5.4,-1.0 5.8,-2.0"/><path transform="translate(29.70,0)" d="M0.2,-3.0 H3.4"/><path transform="translate(34.40,0)" d="M0.2,0 L4.8,-8.9 L7.3,0 M1.8,-3.0 H6.6"/></g>
<rect x="200" y="445" width="78" height="19" fill="#fff"/>
<text x="62.2" y="267.6" font-size="24.5" font-weight="bold" fill="#000" stroke="#000" stroke-width="0.35" text-anchor="start" >C</text>
<text x="95.9" y="257.6" font-size="14.2" font-weight="bold" fill="#000" stroke="#000" stroke-width="0.35" text-anchor="start" >Gal5-GST</text>
<text x="171.7" y="298.6" font-size="14.2" font-weight="bold" fill="#000" stroke="#000" stroke-width="0.35" text-anchor="start" >GST</text>
<text x="200.9" y="460.2" font-size="17.8" font-weight="bold" fill="#000" stroke="#000" stroke-width="0.35" text-anchor="start" >Perit. M</text>
<g fill="none" stroke="#000"><ellipse cx="270.9" cy="453.5" rx="4.45" ry="4.0" stroke-width="1.45"/><path d="M270.9,447.0 V460.1" stroke-width="1.5"/><path d="M268.6,447.1 h4.6 M268.6,460.0 h4.6" stroke-width="0.9"/></g>
<path d="M114.5,263.8 C104,265 99,276 100.2,289.4" fill="none" stroke="#000" stroke-width="1.8" stroke-linecap="butt"/><path d="M101.7,296.8 L92.3,286.9 L99.1,288.6 L103.7,283.3 Z" fill="#000"/>
<path d="M187.3,303 C187.5,312 183,319.5 176.2,322.6" fill="none" stroke="#000" stroke-width="1.8" stroke-linecap="butt"/><path d="M167.8,325.0 L179.2,316.8 L176.6,323.2 L181.5,328.0 Z" fill="#000"/>
</g>
<g id="panelD">
<path d="M286.2,243.0 H517.2 V468.9" fill="none" stroke="#3a3a3a" stroke-width="1.4"/>
<polygon points="293.0,469.0 293.0,440.0 295.2,434.0 297.9,420.0 300.5,411.2 303.1,402.5 304.0,397.4 305.7,381.7 311.0,380.0 312.7,353.7 314.5,336.2 318.0,324.0 318.8,310.0 319.7,303.8 322.3,315.2 325.0,303.0 326.7,308.2 328.5,302.0 331.0,315.2 332.8,327.4 335.5,345.0 337.2,362.4 339.0,380.0 341.6,397.4 342.4,402.5 346.0,423.5 349.4,441.0 353.8,455.0 358.2,463.7 362.6,468.6" fill="#cfcfcf" stroke="none"/>
<polyline points="293.0,469.0 293.0,440.0 295.2,434.0 297.9,420.0 300.5,411.2 303.1,402.5 304.0,397.4 305.7,381.7 311.0,380.0 312.7,353.7 314.5,336.2 318.0,324.0 318.8,310.0 319.7,303.8 322.3,315.2 325.0,303.0 326.7,308.2 328.5,302.0 331.0,315.2 332.8,327.4 335.5,345.0 337.2,362.4 339.0,380.0 341.6,397.4 342.4,402.5 346.0,423.5 349.4,441.0 353.8,455.0 358.2,463.7 362.6,468.6" fill="none" stroke="#000" stroke-width="1.4" stroke-linejoin="round"/>
<polyline points="310.0,467.5 296.1,467.2 298.7,462.0 305.7,451.4 313.6,441.0 318.0,423.5 323.2,402.5 325.0,394.0 327.6,383.4 331.0,380.0 333.7,369.4 336.3,362.4 339.0,350.2 341.6,336.2 345.0,347.6 346.8,329.2 347.7,322.2 350.3,310.8 353.0,321.3 356.4,304.7 360.0,296.0 363.4,304.7 367.0,299.4 369.5,308.2 371.4,318.7 374.0,332.7 377.5,348.5 381.0,367.7 384.5,385.2 388.4,402.5 391.9,425.2 396.2,441.0 399.7,455.0 405.0,461.0 411.0,465.4 415.5,468.6" fill="none" stroke="#868686" stroke-width="1.5" stroke-linejoin="round"/>
<polyline points="297.0,467.2 311.0,466.3 318.0,462.0 325.0,458.4 332.0,452.3 336.3,450.6 342.4,442.7 346.8,440.0 350.3,430.5 354.7,420.0 359.0,413.0 361.7,402.5 364.4,390.0 367.9,374.7 370.5,360.7 374.0,352.0 377.5,336.2 380.1,320.0 381.0,316.0 383.6,304.7 386.2,294.2 390.6,283.7 393.2,273.2 395.8,266.2 398.5,271.5 401.1,285.5 403.7,301.2 407.2,306.4 409.0,317.0 409.8,327.5 412.4,350.2 414.2,371.2 416.3,385.0 419.0,402.5 422.4,425.2 426.0,441.0 430.3,455.0 434.7,464.5 438.2,468.0 442.0,468.8" fill="none" stroke="#000" stroke-width="1.4" stroke-linejoin="round"/>
<polyline points="297.0,463.7 310.0,463.7 314.5,457.6 320.6,455.0 325.0,447.0 330.2,446.2 334.6,438.3 340.7,434.0 346.8,431.3 349.4,420.0 352.0,411.2 356.4,409.5 358.2,397.2 360.0,392.2 363.5,383.4 367.9,371.2 370.5,359.0 374.9,341.5 377.5,327.5 380.1,317.0 382.5,304.7 385.2,294.2 389.6,283.7 393.0,277.0 395.8,275.8 397.6,283.7 399.3,297.7 402.0,310.0 405.5,318.7 407.2,329.2 408.0,332.7 410.7,350.2 412.4,371.2 415.0,388.7 417.7,402.5 421.0,425.2 424.6,441.0 429.0,455.0 433.4,464.5 437.0,468.0" fill="none" stroke="#000" stroke-width="2.0" stroke-dasharray="0.01 3.4" stroke-linecap="round" stroke-linejoin="round"/>
<polyline points="294.6,468.0 296.5,459.0 301.4,452.3 304.9,444.4 311.0,432.2 316.2,416.5 318.8,399.0 322.3,385.0 323.2,380.0 326.7,362.4 328.5,345.0 332.8,335.0 333.6,328.1" fill="none" stroke="#000" stroke-width="1.8" stroke-dasharray="9.0 8.5" stroke-linejoin="round" stroke-dashoffset="0.00"/>
<polyline points="379.2,315.2 381.0,322.2 381.9,331.0 384.5,350.2 387.1,369.4 389.2,385.0 392.7,402.5 396.2,420.0 400.6,439.2 405.8,455.0 412.0,463.7 420.7,466.3 424.0,468.5" fill="none" stroke="#000" stroke-width="1.8" stroke-dasharray="9.5 8.0" stroke-linejoin="round"/>
<path d="M335.1,310.2 L334.3,317.2" stroke="#000" stroke-width="1.8" fill="none"/><path d="M340.6,297.8 L337.4,304.8" stroke="#000" stroke-width="1.8" fill="none"/><path d="M345.2,294.7 L342.9,300.1" stroke="#000" stroke-width="1.8" fill="none"/><path d="M348.6,290.8 L346.0,297.8" stroke="#000" stroke-width="1.8" fill="none"/><path d="M356.1,280.7 L354.5,288.4" stroke="#000" stroke-width="1.8" fill="none"/><path d="M358.4,263.6 L356.9,270.6" stroke="#000" stroke-width="1.8" fill="none"/><path d="M360.5,270.6 L362.3,278.3" stroke="#000" stroke-width="1.8" fill="none"/><path d="M363.9,288.4 L365.4,296.2" stroke="#000" stroke-width="1.8" fill="none"/><path d="M377.9,298.5 L379.1,306.3" stroke="#000" stroke-width="1.8" fill="none"/><path d="M375.1,285.6 L376.0,288.6" stroke="#000" stroke-width="1.8" fill="none"/>
<path d="M286.6,468.9 H292.2" stroke="#888" stroke-width="1"/>
<path d="M289.6,457.6 H292.2" stroke="#aaa" stroke-width="0.8"/>
<path d="M289.6,446.3 H292.2" stroke="#aaa" stroke-width="0.8"/>
<path d="M289.6,435.0 H292.2" stroke="#aaa" stroke-width="0.8"/>
<path d="M286.6,423.7 H292.2" stroke="#888" stroke-width="1"/>
<path d="M289.6,412.4 H292.2" stroke="#aaa" stroke-width="0.8"/>
<path d="M289.6,401.1 H292.2" stroke="#aaa" stroke-width="0.8"/>
<path d="M289.6,389.8 H292.2" stroke="#aaa" stroke-width="0.8"/>
<path d="M286.6,378.5 H292.2" stroke="#888" stroke-width="1"/>
<path d="M289.6,367.2 H292.2" stroke="#aaa" stroke-width="0.8"/>
<path d="M289.6,355.9 H292.2" stroke="#aaa" stroke-width="0.8"/>
<path d="M289.6,344.7 H292.2" stroke="#aaa" stroke-width="0.8"/>
<path d="M286.6,333.4 H292.2" stroke="#888" stroke-width="1"/>
<path d="M289.6,322.1 H292.2" stroke="#aaa" stroke-width="0.8"/>
<path d="M289.6,310.8 H292.2" stroke="#aaa" stroke-width="0.8"/>
<path d="M289.6,299.5 H292.2" stroke="#aaa" stroke-width="0.8"/>
<path d="M286.6,288.2 H292.2" stroke="#888" stroke-width="1"/>
<path d="M289.6,276.9 H292.2" stroke="#aaa" stroke-width="0.8"/>
<path d="M289.6,265.6 H292.2" stroke="#aaa" stroke-width="0.8"/>
<path d="M289.6,254.3 H292.2" stroke="#aaa" stroke-width="0.8"/>
<path d="M286.6,243.0 H292.2" stroke="#888" stroke-width="1"/>
<path d="M291.4,468.9 v5.2" stroke="#6a6a6a" stroke-width="0.9"/>
<path d="M308.3,468.9 v2.9" stroke="#888" stroke-width="0.8"/>
<path d="M318.3,468.9 v2.9" stroke="#888" stroke-width="0.8"/>
<path d="M325.3,468.9 v2.9" stroke="#888" stroke-width="0.8"/>
<path d="M330.8,468.9 v2.9" stroke="#888" stroke-width="0.8"/>
<path d="M335.2,468.9 v2.9" stroke="#888" stroke-width="0.8"/>
<path d="M339.0,468.9 v2.9" stroke="#888" stroke-width="0.8"/>
<path d="M342.2,468.9 v2.9" stroke="#888" stroke-width="0.8"/>
<path d="M345.1,468.9 v2.9" stroke="#888" stroke-width="0.8"/>
<path d="M347.7,468.9 v5.2" stroke="#6a6a6a" stroke-width="0.9"/>
<path d="M364.6,468.9 v2.9" stroke="#888" stroke-width="0.8"/>
<path d="M374.6,468.9 v2.9" stroke="#888" stroke-width="0.8"/>
<path d="M381.6,468.9 v2.9" stroke="#888" stroke-width="0.8"/>
<path d="M387.1,468.9 v2.9" stroke="#888" stroke-width="0.8"/>
<path d="M391.5,468.9 v2.9" stroke="#888" stroke-width="0.8"/>
<path d="M395.3,468.9 v2.9" stroke="#888" stroke-width="0.8"/>
<path d="M398.5,468.9 v2.9" stroke="#888" stroke-width="0.8"/>
<path d="M401.4,468.9 v2.9" stroke="#888" stroke-width="0.8"/>
<path d="M404.0,468.9 v5.2" stroke="#6a6a6a" stroke-width="0.9"/>
<path d="M420.9,468.9 v2.9" stroke="#888" stroke-width="0.8"/>
<path d="M430.9,468.9 v2.9" stroke="#888" stroke-width="0.8"/>
<path d="M437.9,468.9 v2.9" stroke="#888" stroke-width="0.8"/>
<path d="M443.4,468.9 v2.9" stroke="#888" stroke-width="0.8"/>
<path d="M447.8,468.9 v2.9" stroke="#888" stroke-width="0.8"/>
<path d="M451.6,468.9 v2.9" stroke="#888" stroke-width="0.8"/>
<path d="M454.8,468.9 v2.9" stroke="#888" stroke-width="0.8"/>
<path d="M457.7,468.9 v2.9" stroke="#888" stroke-width="0.8"/>
<path d="M460.3,468.9 v5.2" stroke="#6a6a6a" stroke-width="0.9"/>
<path d="M477.2,468.9 v2.9" stroke="#888" stroke-width="0.8"/>
<path d="M487.2,468.9 v2.9" stroke="#888" stroke-width="0.8"/>
<path d="M494.2,468.9 v2.9" stroke="#888" stroke-width="0.8"/>
<path d="M499.7,468.9 v2.9" stroke="#888" stroke-width="0.8"/>
<path d="M504.1,468.9 v2.9" stroke="#888" stroke-width="0.8"/>
<path d="M507.9,468.9 v2.9" stroke="#888" stroke-width="0.8"/>
<path d="M511.1,468.9 v2.9" stroke="#888" stroke-width="0.8"/>
<path d="M514.0,468.9 v2.9" stroke="#888" stroke-width="0.8"/>
<path d="M286.2,468.9 H292.2" fill="none" stroke="#666" stroke-width="1.1"/>
<path d="M291.7,468.9 H517.2" fill="none" stroke="#111" stroke-width="1.9"/>
<rect x="290.80" y="243.00" width="1.80" height="226.80" fill="#000"/>
<rect x="292.60" y="243.00" width="1.10" height="226.80" fill="#2e2e2e"/>
<g transform="translate(283.10,497.10) scale(1.0,1.12)" fill="none" stroke="#505050" stroke-width="1.05" stroke-linecap="round" stroke-linejoin="round"><path transform="translate(0.00,0)" d="M0.2,-7.6 L1.5,-8.7 V-0.1 M0.1,-0.1 H2.9"/></g>
<g transform="translate(286.37,497.10) scale(1.1,1.14)" fill="none" stroke="#505050" stroke-width="1.05" stroke-linecap="round" stroke-linejoin="round"><path transform="translate(0.00,0)" d="M3.3,-8.7 C1.4,-8.7 0.5,-6.6 0.5,-4.4 C0.5,-2.0 1.4,-0.1 3.3,-0.1 C5.2,-0.1 6.1,-2.0 6.1,-4.4 C6.1,-6.6 5.2,-8.7 3.3,-8.7 Z"/></g>
<g transform="translate(293.76,489.70) scale(0.92,1.08)" fill="none" stroke="#505050" stroke-width="1.05" stroke-linecap="round" stroke-linejoin="round"><path transform="translate(0.00,0)" d="M3.3,-8.7 C1.4,-8.7 0.5,-6.6 0.5,-4.4 C0.5,-2.0 1.4,-0.1 3.3,-0.1 C5.2,-0.1 6.1,-2.0 6.1,-4.4 C6.1,-6.6 5.2,-8.7 3.3,-8.7 Z"/></g>
<g transform="translate(338.90,497.10) scale(1.0,1.12)" fill="none" stroke="#505050" stroke-width="1.05" stroke-linecap="round" stroke-linejoin="round"><path transform="translate(0.00,0)" d="M0.2,-7.6 L1.5,-8.7 V-0.1 M0.1,-0.1 H2.9"/></g>
<g transform="translate(342.87,497.10) scale(1.1,1.14)" fill="none" stroke="#505050" stroke-width="1.05" stroke-linecap="round" stroke-linejoin="round"><path transform="translate(0.00,0)" d="M3.3,-8.7 C1.4,-8.7 0.5,-6.6 0.5,-4.4 C0.5,-2.0 1.4,-0.1 3.3,-0.1 C5.2,-0.1 6.1,-2.0 6.1,-4.4 C6.1,-6.6 5.2,-8.7 3.3,-8.7 Z"/></g>
<g transform="translate(352.42,489.70) scale(0.92,1.08)" fill="none" stroke="#505050" stroke-width="1.05" stroke-linecap="round" stroke-linejoin="round"><path transform="translate(0.00,0)" d="M0.2,-7.6 L1.5,-8.7 V-0.1 M0.1,-0.1 H2.9"/></g>
<g transform="translate(395.80,497.10) scale(1.0,1.12)" fill="none" stroke="#505050" stroke-width="1.05" stroke-linecap="round" stroke-linejoin="round"><path transform="translate(0.00,0)" d="M0.2,-7.6 L1.5,-8.7 V-0.1 M0.1,-0.1 H2.9"/></g>
<g transform="translate(399.42,497.10) scale(1.1,1.14)" fill="none" stroke="#505050" stroke-width="1.05" stroke-linecap="round" stroke-linejoin="round"><path transform="translate(0.00,0)" d="M3.3,-8.7 C1.4,-8.7 0.5,-6.6 0.5,-4.4 C0.5,-2.0 1.4,-0.1 3.3,-0.1 C5.2,-0.1 6.1,-2.0 6.1,-4.4 C6.1,-6.6 5.2,-8.7 3.3,-8.7 Z"/></g>
<g transform="translate(406.26,489.70) scale(0.92,1.08)" fill="none" stroke="#505050" stroke-width="1.05" stroke-linecap="round" stroke-linejoin="round"><path transform="translate(0.00,0)" d="M0.7,-6.6 C0.9,-8.9 5.4,-9.2 5.4,-6.4 C5.4,-4.0 1.6,-2.2 0.5,-0.1 H6.0"/></g>
<g transform="translate(452.30,497.10) scale(1.0,1.12)" fill="none" stroke="#505050" stroke-width="1.05" stroke-linecap="round" stroke-linejoin="round"><path transform="translate(0.00,0)" d="M0.2,-7.6 L1.5,-8.7 V-0.1 M0.1,-0.1 H2.9"/></g>
<g transform="translate(455.82,497.10) scale(1.1,1.14)" fill="none" stroke="#505050" stroke-width="1.05" stroke-linecap="round" stroke-linejoin="round"><path transform="translate(0.00,0)" d="M3.3,-8.7 C1.4,-8.7 0.5,-6.6 0.5,-4.4 C0.5,-2.0 1.4,-0.1 3.3,-0.1 C5.2,-0.1 6.1,-2.0 6.1,-4.4 C6.1,-6.6 5.2,-8.7 3.3,-8.7 Z"/></g>
<g transform="translate(462.16,489.70) scale(0.92,1.08)" fill="none" stroke="#505050" stroke-width="1.05" stroke-linecap="round" stroke-linejoin="round"><path transform="translate(0.00,0)" d="M0.8,-7.6 C1.8,-9.0 5.2,-9.0 5.2,-6.6 C5.2,-5.2 3.6,-4.6 2.4,-4.6 C4.0,-4.6 5.8,-4.0 5.8,-2.4 C5.8,-0.1 1.8,0.4 0.5,-1.2"/></g>
<g transform="translate(356.60,513.30) scale(1.0,1.0)" fill="none" stroke="#505050" stroke-width="1.1" stroke-linecap="round" stroke-linejoin="round"><path transform="translate(0.00,0)" d="M0.5,0 V-8.8 H5.6 M0.5,-4.6 H4.6"/><path transform="translate(7.50,0)" d="M0.2,-8.8 H5.0 M2.6,-8.8 V-0.2 M0.2,-0.2 H5.0"/><path transform="translate(13.30,0)" d="M0.1,-8.8 H7.3 M3.7,-8.8 V0"/><path transform="translate(22.30,0)" d="M6.2,-7.4 C5.6,-9.2 3.2,-9.2 1.8,-7 C0.2,-4.4 0.2,-0.3 3.0,-0.2 C4.4,-0.2 5.4,-1.0 5.8,-2.0"/><path transform="translate(29.70,0)" d="M0.2,-3.0 H3.4"/><path transform="translate(34.40,0)" d="M0.2,0 L4.8,-8.9 L7.3,0 M1.8,-3.0 H6.6"/></g>
<text x="298.6" y="268" font-size="24.5" font-weight="bold" fill="#000" stroke="#000" stroke-width="0.35" text-anchor="start" >D</text>
<text x="296.8" y="292.4" font-size="14.2" font-weight="bold" fill="#000" stroke="#000" stroke-width="0.35" text-anchor="start" >none</text>
<text x="351.8" y="262.0" font-size="14.2" font-weight="bold" fill="#000" stroke="#000" stroke-width="0.35" text-anchor="start" >+ gluc</text>
<text x="427.8" y="317.8" font-size="14.2" font-weight="bold" fill="#000" stroke="#000" stroke-width="0.35" text-anchor="start" >+ lact</text>
<text x="436.4" y="458.8" font-size="17.8" font-weight="bold" fill="#000" stroke="#000" stroke-width="0.35" text-anchor="start" >Perit. M</text>
<g fill="none" stroke="#000"><ellipse cx="506.3" cy="452.1" rx="4.45" ry="4.0" stroke-width="1.45"/><path d="M506.3,445.6 V458.7" stroke-width="1.5"/><path d="M504.0,445.7 h4.6 M504.0,458.6 h4.6" stroke-width="0.9"/></g>
<path d="M310.4,300.4 C311.5,311 320,317.5 334,318.9" fill="none" stroke="#000" stroke-width="1.8" stroke-linecap="butt"/><path d="M341.6,319.6 L328.8,325.0 L332.9,319.1 L329.6,312.7 Z" fill="#000"/>
<path d="M373.3,267.5 C373.6,284 371,300 365.2,312.6" fill="none" stroke="#000" stroke-width="1.8" stroke-linecap="butt"/><path d="M360.2,319.1 L363.1,305.8 L365.3,312.0 L372.0,312.2 Z" fill="#000"/>
<path d="M446.9,323.3 C447.3,338 437,348.5 423,350.1" fill="none" stroke="#000" stroke-width="1.8" stroke-linecap="butt"/><path d="M414.2,351.3 L426.2,344.0 L423.1,350.2 L427.7,355.4 Z" fill="#000"/>
</g>
</svg></body></html>
